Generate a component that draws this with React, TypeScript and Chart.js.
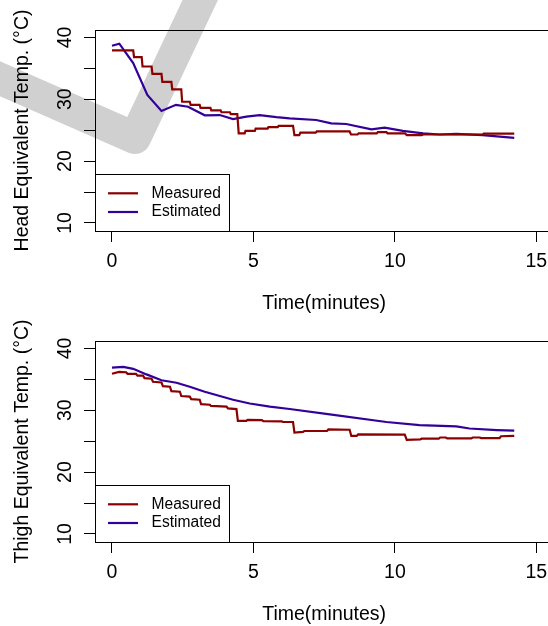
import React, { useEffect, useRef } from "react";
import { Chart, registerables } from "chart.js";

Chart.register(...registerables);

// ---------- data (time in minutes, temperature in °C) ----------
const headMeasured: [number, number][] = [
  [0, 37.9], [0.75, 37.9], [0.78, 36.8], [1.05, 36.8], [1.08, 35.3], [1.4, 35.3],
  [1.43, 34.1], [1.75, 34.1], [1.78, 32.8], [2.1, 32.8], [2.13, 31.6], [2.45, 31.6],
  [2.48, 29.6], [2.75, 29.6], [2.78, 29.1], [3.1, 29.1], [3.13, 28.6], [3.48, 28.6],
  [3.51, 28.2], [3.84, 28.2], [3.87, 27.9], [4.17, 27.9], [4.2, 27.6], [4.43, 27.6],
  [4.48, 24.5], [4.69, 24.5], [4.72, 24.9], [5.05, 24.9], [5.08, 25.25], [5.5, 25.25],
  [5.53, 25.5], [5.86, 25.5], [5.89, 25.7], [6.4, 25.7], [6.45, 24.2], [6.62, 24.2],
  [6.66, 24.6], [7.2, 24.6], [7.24, 24.8], [8.4, 24.8], [8.45, 24.3], [8.68, 24.3],
  [8.72, 24.5], [9.36, 24.5], [9.4, 24.7], [9.7, 24.7], [9.74, 24.5], [10.36, 24.5],
  [10.42, 24.2], [10.95, 24.2], [11.0, 24.3], [13.1, 24.3], [13.14, 24.45], [14.22, 24.45],
];
const headEstimated: [number, number][] = [
  [0, 38.65], [0.26, 38.98], [0.75, 35.85], [1.25, 30.7], [1.75, 28.1], [2.26, 29.1],
  [2.69, 28.8], [3.28, 27.4], [3.81, 27.45], [4.28, 26.8], [4.75, 27.2], [5.22, 27.45],
  [5.81, 27.1], [6.28, 26.9], [7.22, 26.65], [7.75, 26.1], [8.28, 26.0], [9.17, 25.15],
  [9.64, 25.4], [10.28, 24.9], [11.0, 24.5], [11.58, 24.3], [12.17, 24.4], [13.1, 24.2],
  [14.22, 23.75],
];
const thighMeasured: [number, number][] = [
  [0, 35.9], [0.25, 36.2], [0.5, 36.15], [0.55, 35.9], [0.85, 35.9], [0.9, 35.6],
  [1.1, 35.6], [1.15, 35.2], [1.4, 35.1], [1.45, 34.6], [1.75, 34.5], [1.8, 33.9],
  [2.05, 33.8], [2.1, 33.1], [2.4, 33.0], [2.45, 32.3], [2.75, 32.2], [2.8, 31.8],
  [3.1, 31.7], [3.15, 31.0], [3.46, 30.9], [3.5, 30.7], [4.05, 30.6], [4.1, 30.3],
  [4.4, 30.2], [4.45, 28.3], [4.75, 28.3], [4.8, 28.45], [5.3, 28.4], [5.35, 28.25],
  [6.0, 28.2], [6.05, 28.1], [6.4, 28.1], [6.45, 26.4], [6.75, 26.5], [6.8, 26.65],
  [7.6, 26.65], [7.65, 26.9], [8.4, 26.85], [8.46, 25.85], [8.65, 25.85], [8.7, 26.1],
  [10.35, 26.05], [10.42, 25.2], [10.9, 25.3], [10.95, 25.4], [11.55, 25.4], [11.6, 25.6],
  [11.8, 25.6], [11.85, 25.45], [12.7, 25.45], [12.75, 25.6], [13.0, 25.6], [13.05, 25.5],
  [13.7, 25.5], [13.75, 25.8], [14.22, 25.85],
];
const thighEstimated: [number, number][] = [
  [0, 36.9], [0.4, 37.0], [0.75, 36.7], [1.22, 35.8], [1.75, 34.85], [2.28, 34.45],
  [2.75, 33.8], [3.28, 33.0], [4.28, 31.7], [4.87, 31.1], [5.58, 30.6], [6.28, 30.2],
  [7.7, 29.35], [9.7, 28.1], [10.87, 27.6], [12.17, 27.4], [12.64, 27.05], [13.6, 26.8],
  [14.22, 26.7],
];

const seriesNames = ["Measured", "Estimated"];
const xTicks = [0, 5, 10, 15];
const yTicks = [10, 15, 20, 25, 30, 35, 40];
const yLabelTicks = [10, 20, 30, 40];
const xTitle = "Time(minutes)";
const yTitles = ["Head Equivalent Temp. (°C)", "Thigh Equivalent Temp. (°C)"];

// ---------- styling ----------
const RED = "#8b0000";
const BLUE = "#330099";
const FAMILY = '"Liberation Sans", Arial, Helvetica, sans-serif';
const FS = 19.5;
const CW = 560;
const CH = 320;

const rPlugin = {
  id: "rStyle",
  afterDraw(chart: any) {
    const { ctx, chartArea } = chart;
    const { left, top, right, bottom } = chartArea;
    ctx.save();
    // box top and right edges
    ctx.strokeStyle = "#000";
    ctx.lineWidth = 1;
    ctx.beginPath();
    ctx.moveTo(Math.round(left) + 0.5, Math.round(top) + 0.5);
    ctx.lineTo(Math.round(right) + 0.5, Math.round(top) + 0.5);
    ctx.lineTo(Math.round(right) + 0.5, Math.round(bottom) + 0.5);
    ctx.stroke();

    // rotated y tick labels
    const ys = chart.scales.y;
    ctx.fillStyle = "#000";
    ctx.font = `${FS}px ${FAMILY}`;
    ctx.textAlign = "center";
    ctx.textBaseline = "alphabetic";
    for (const v of yLabelTicks) {
      const py = ys.getPixelForValue(v);
      ctx.save();
      ctx.translate(left - 24.5, py);
      ctx.rotate(-Math.PI / 2);
      ctx.fillText(String(v), 0, 0);
      ctx.restore();
    }

    // legend box at bottom-left
    const lw = 134;
    const lh = 57;
    ctx.strokeStyle = "#000";
    ctx.lineWidth = 1;
    ctx.strokeRect(Math.round(left) + 0.5, Math.round(bottom - lh) + 0.5, lw, lh);
    const colors = [RED, BLUE];
    const rows = [bottom - 37.7, bottom - 19];
    ctx.font = `${FS * 0.8}px ${FAMILY}`;
    ctx.textAlign = "left";
    ctx.textBaseline = "middle";
    seriesNames.forEach((name, i) => {
      ctx.strokeStyle = colors[i];
      ctx.lineWidth = 2.2;
      ctx.beginPath();
      ctx.moveTo(left + 13, rows[i]);
      ctx.lineTo(left + 43, rows[i]);
      ctx.stroke();
      ctx.fillStyle = "#000";
      ctx.fillText(name, left + 56.5, rows[i]);
    });
    ctx.restore();
  },
};

function makeConfig(measured: [number, number][], estimated: [number, number][], yTitle: string): any {
  const font = { family: FAMILY, size: FS, lineHeight: 1.2 };
  return {
    type: "line",
    data: {
      datasets: [
        {
          label: seriesNames[0],
          data: measured.map(([x, y]) => ({ x, y })),
          borderColor: RED,
          borderWidth: 2.2,
          pointRadius: 0,
          tension: 0,
          fill: false,
        },
        {
          label: seriesNames[1],
          data: estimated.map(([x, y]) => ({ x, y })),
          borderColor: BLUE,
          borderWidth: 2.2,
          pointRadius: 0,
          tension: 0,
          fill: false,
        },
      ],
    },
    options: {
      animation: false,
      responsive: false,
      devicePixelRatio: 1,
      layout: { padding: { top: 30, right: 6.7, left: 0, bottom: 0 } },
      plugins: { legend: { display: false }, tooltip: { enabled: false } },
      scales: {
        x: {
          type: "linear",
          min: -0.6,
          max: 15.6,
          afterBuildTicks: (s: any) => {
            s.ticks = xTicks.map((v) => ({ value: v }));
          },
          afterFit: (s: any) => {
            s.height = CH - 231;
          },
          grid: { display: true, drawOnChartArea: false, drawTicks: true, tickLength: 11, color: "#000", lineWidth: 1 },
          border: { display: true, color: "#000", width: 1 },
          ticks: { font, color: "#000", padding: 7.8, maxRotation: 0, minRotation: 0, autoSkip: false, callback: (v: any) => String(v) },
          title: { display: true, text: xTitle, font, color: "#000", padding: { top: 0, bottom: 5.1 } },
        },
        y: {
          type: "linear",
          min: 8.7,
          max: 41.2,
          afterBuildTicks: (s: any) => {
            s.ticks = yTicks.map((v) => ({ value: v }));
          },
          afterFit: (s: any) => {
            s.width = 95;
          },
          grid: { display: true, drawOnChartArea: false, drawTicks: true, tickLength: 11, color: "#000", lineWidth: 1 },
          border: { display: true, color: "#000", width: 1 },
          ticks: { display: false },
          title: { display: true, text: yTitle, font, color: "#000", padding: { top: 10.7, bottom: 0 } },
        },
      },
    },
    plugins: [rPlugin],
  };
}

function Panel({ top, measured, estimated, yTitle }: { top: number; measured: [number, number][]; estimated: [number, number][]; yTitle: string }) {
  const ref = useRef<HTMLCanvasElement>(null);
  useEffect(() => {
    const chart = new Chart(ref.current as HTMLCanvasElement, makeConfig(measured, estimated, yTitle));
    return () => chart.destroy();
  }, []);
  return (
    <canvas
      ref={ref}
      width={CW}
      height={CH}
      style={{ position: "absolute", left: 0, top, width: CW, height: CH, zIndex: 1 }}
    />
  );
}

export default function App() {
  return (
    <div style={{ position: "fixed", left: 0, top: 0, width: 548, height: 626, overflow: "hidden", background: "#fff" }}>
      <svg width={548} height={626} style={{ position: "absolute", left: 0, top: 0, zIndex: 0 }}>
        <polyline
          points="-20,70 135,138 205,-10"
          fill="none"
          stroke="#d0d0d0"
          strokeWidth={32}
          strokeLinejoin="round"
        />
      </svg>
      <Panel top={0} measured={headMeasured} estimated={headEstimated} yTitle={yTitles[0]} />
      <Panel top={311} measured={thighMeasured} estimated={thighEstimated} yTitle={yTitles[1]} />
    </div>
  );
}
